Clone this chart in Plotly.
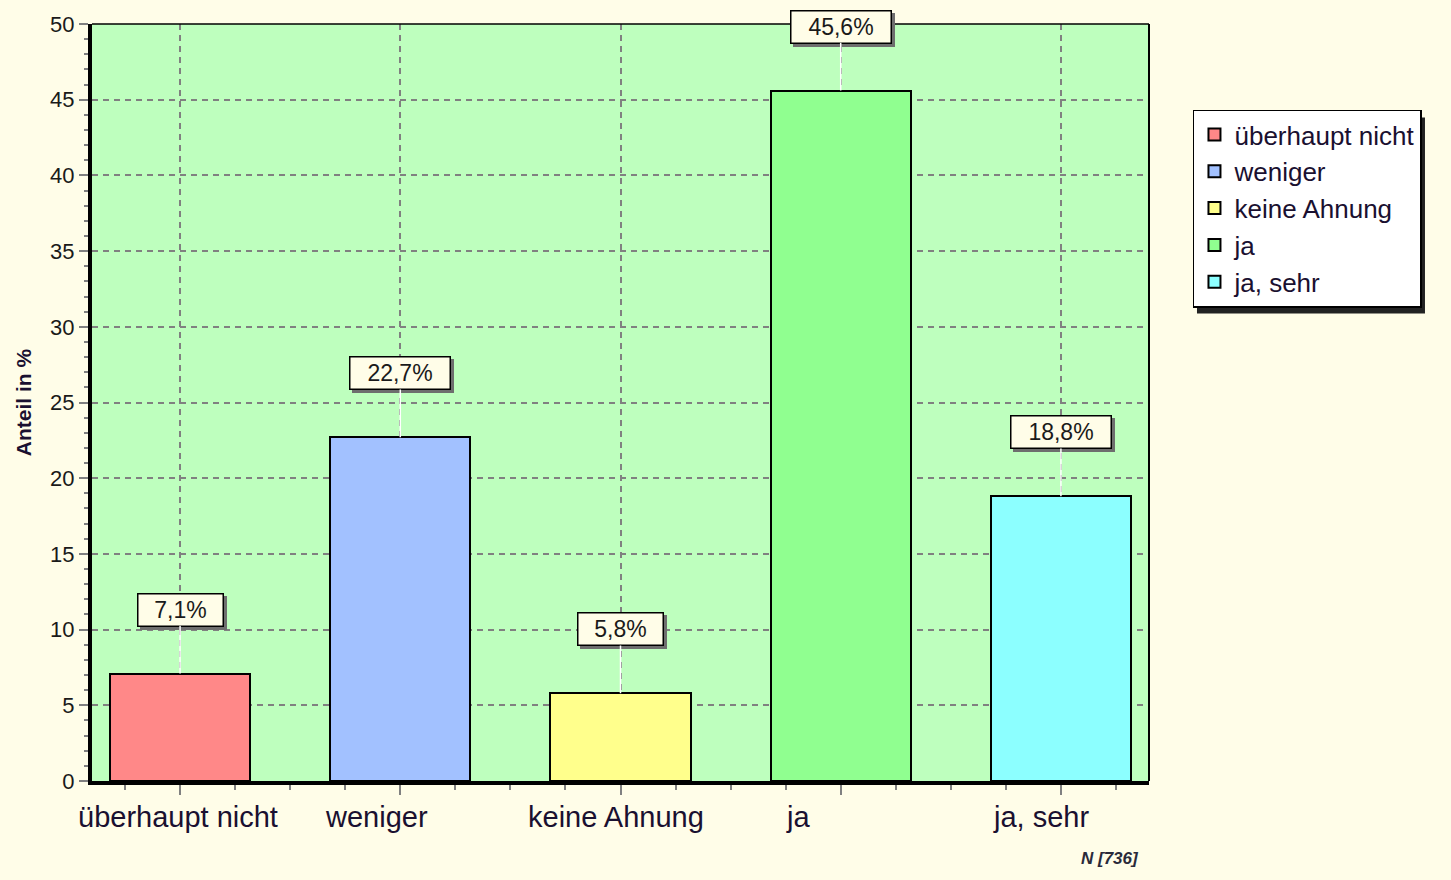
import plotly.graph_objects as go

categories = ["überhaupt nicht", "weniger", "keine Ahnung", "ja", "ja, sehr"]
values = [7.1, 22.7, 5.8, 45.6, 18.8]
bar_colors = ["#FF8888", "#A2C1FF", "#FFFF8C", "#90FF90", "#8CFFFF"]
y_title = "Anteil in %"
n_note = "N [736]"

# per-category horizontal shift of the category label (pixels), as in the original
label_shift = [-2, -24, -5, -43, -20]

PAPER = "#FFFDE8"
PLOT = "#BEFFBE"
FONT = "Liberation Sans, Arial, sans-serif"

positions = list(range(len(categories)))

fig = go.Figure()
for pos, cat, val, col in zip(positions, categories, values, bar_colors):
    fig.add_trace(go.Bar(
        x=[pos], y=[val], name=cat, width=0.636,
        marker=dict(color=col, line=dict(color="black", width=2)),
        hoverinfo="skip",
    ))

annotations = []
for pos, val in zip(positions, values):
    label = f"{val:.1f}%".replace(".", ",")
    bw = 24 + 15 * len(label)
    # shadow of the label box
    annotations.append(dict(
        x=pos, y=val, xref="x", yref="y", text=" ",
        showarrow=True, arrowcolor="rgba(0,0,0,0)", arrowhead=0, ax=0, ay=-64,
        xshift=3, yshift=-3, font=dict(size=23, family=FONT),
        bgcolor="#6E6E6E", bordercolor="#6E6E6E", borderwidth=1.5,
        width=bw, height=31, borderpad=0,
    ))
    annotations.append(dict(
        x=pos, y=val, xref="x", yref="y", text=label,
        showarrow=True, arrowcolor="white", arrowwidth=1.5, arrowhead=0,
        ax=0, ay=-64, standoff=0,
        font=dict(size=23, color="#1a1a1a", family=FONT),
        bgcolor=PAPER, bordercolor="black", borderwidth=1.5,
        width=bw, height=31, borderpad=0,
    ))

# category labels below the axis
for pos, cat, sh in zip(positions, categories, label_shift):
    annotations.append(dict(
        x=pos, y=0, xref="x", yref="y", text=cat, showarrow=False,
        xanchor="center", yanchor="top", xshift=sh, yshift=-18,
        font=dict(size=29, color="#1a1030", family=FONT),
    ))

annotations.append(dict(
    x=0.9925, y=-0.102, xref="paper", yref="paper", xanchor="right", yanchor="middle",
    text=f"<b><i>{n_note}</i></b>", showarrow=False,
    font=dict(size=17, color="#2a2a3a", family=FONT),
))

fig.update_layout(
    width=1451, height=880,
    paper_bgcolor=PAPER, plot_bgcolor=PLOT,
    margin=dict(l=92, r=302, t=20, b=99),
    barmode="overlay",
    bargap=0,
    showlegend=True,
    legend=dict(
        x=1.0416, y=0.8869, xanchor="left", yanchor="top",
        bgcolor="white", bordercolor="black", borderwidth=1.5,
        font=dict(size=26, color="#1a1030", family=FONT),
        itemsizing="constant", tracegroupgap=0,
    ),
    annotations=annotations,
    font=dict(family=FONT, color="#1a1a1a"),
)

fig.update_xaxes(
    range=[-0.4, 4.4],
    tickmode="array", tickvals=positions, ticktext=categories,
    showticklabels=False,
    ticks="outside", ticklen=10, tickwidth=1.5, tickcolor="#808080",
    showgrid=True, gridcolor="#808080", gridwidth=1.5, griddash="6px,5px",
    showline=True, linecolor="black", linewidth=4, mirror=False,
    minor=dict(dtick=0.25, tick0=0, ticks="outside", ticklen=5, tickwidth=1.5,
               tickcolor="#808080", showgrid=False),
    zeroline=False,
)
fig.update_yaxes(
    range=[0, 50], dtick=5,
    title=dict(text=f"<b>{y_title}</b>", font=dict(size=21, color="#1a1030"), standoff=14),
    tickfont=dict(size=22, color="#1a1a1a"),
    ticks="outside", ticklen=9, tickwidth=1.5, tickcolor="#808080",
    showgrid=True, gridcolor="#808080", gridwidth=1.5, griddash="6px,5px",
    showline=True, linecolor="black", linewidth=4,
    minor=dict(dtick=1, ticks="outside", ticklen=4, tickwidth=1.5,
               tickcolor="#808080", showgrid=False),
    zeroline=False,
)

# thin frame on top and right
fig.add_shape(type="line", xref="paper", yref="paper", x0=0, x1=1, y0=1, y1=1,
              line=dict(color="black", width=1.5), layer="above")
fig.add_shape(type="line", xref="paper", yref="paper", x0=1, x1=1, y0=0, y1=1,
              line=dict(color="black", width=2), layer="above")
# drop shadow behind the legend box
fig.add_shape(type="rect", xref="paper", yref="paper",
              x0=1.0454, x1=1.2611, y0=0.6176, y1=0.8765,
              fillcolor="#222222", line=dict(width=0), layer="above")

fig.write_html(
    "out.html",
    config={"displayModeBar": False},
    post_script="document.body.style.margin='0';document.body.style.background='#FFFDE8';",
)
